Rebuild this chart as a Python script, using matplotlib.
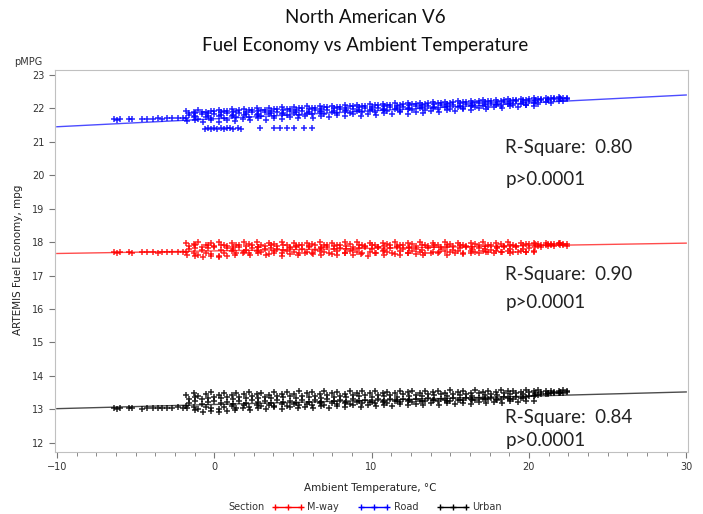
import matplotlib
matplotlib.use("Agg")
import matplotlib.pyplot as plt
from matplotlib.lines import Line2D
from matplotlib.ticker import MultipleLocator, AutoMinorLocator

# temperature positions of the dense bands
x_up = [-1.8, -1.3, -1.0, -0.5, -0.2, 0.3, 0.6, 1.1, 1.4, 1.9,
        2.2, 2.7, 3.0, 3.5, 3.8, 4.3, 4.6, 5.1, 5.4, 5.9,
        6.2, 6.7, 7.0, 7.5, 7.8, 8.3, 8.6, 9.1, 9.4, 9.9,
        10.2, 10.7, 11.0, 11.5, 11.8, 12.3, 12.6, 13.1, 13.4, 13.9,
        14.2, 14.7, 15.0, 15.5, 15.8, 16.3, 16.6, 17.1, 17.4, 17.9,
        18.2, 18.7, 19.0, 19.5, 19.8, 20.3, 20.6, 21.1, 21.4, 21.9, 22.2]
x_mid = [-1.6, -1.2, -0.8, -0.4, 0.0, 0.4, 0.8, 1.2, 1.6, 2.0,
         2.4, 2.8, 3.2, 3.6, 4.0, 4.4, 4.8, 5.2, 5.6, 6.0,
         6.4, 6.8, 7.2, 7.6, 8.0, 8.4, 8.8, 9.2, 9.6, 10.0,
         10.4, 10.8, 11.2, 11.6, 12.0, 12.4, 12.8, 13.2, 13.6, 14.0,
         14.4, 14.8, 15.2, 15.6, 16.0, 16.4, 16.8, 17.2, 17.6, 18.0,
         18.4, 18.8, 19.2, 19.6, 20.0, 20.4, 20.8, 21.2, 21.6, 22.0, 22.4]
x_low = [-1.7, -1.2, -0.7, -0.2, 0.3, 0.8, 1.3, 1.8, 2.3, 2.8,
         3.3, 3.8, 4.3, 4.8, 5.3, 5.8, 6.3, 6.8, 7.3, 7.8,
         8.3, 8.8, 9.3, 9.8, 10.3, 10.8, 11.3, 11.8, 12.3, 12.8,
         13.3, 13.8, 14.3, 14.8, 15.3, 15.8, 16.3, 16.8, 17.3, 17.8,
         18.3, 18.8, 19.3, 19.8, 20.3]
x_cold = [-6.4, -6.2, -6.0, -5.4, -5.2, -4.6, -4.3, -3.9, -3.6, -3.3,
          -3.0, -2.7, -2.3, -2.0]

# Road (blue)
road_up = [21.92, 21.88, 21.95, 21.90, 21.93, 21.96, 21.91, 21.97, 21.93, 21.99,
           21.95, 22.00, 21.96, 22.02, 21.98, 22.03, 21.99, 22.04, 22.01, 22.06,
           22.02, 22.07, 22.03, 22.08, 22.05, 22.10, 22.06, 22.11, 22.07, 22.12,
           22.09, 22.14, 22.10, 22.15, 22.11, 22.16, 22.13, 22.17, 22.14, 22.19,
           22.15, 22.20, 22.17, 22.21, 22.18, 22.23, 22.19, 22.24, 22.21, 22.26,
           22.22, 22.27, 22.24, 22.29, 22.26, 22.30, 22.28, 22.31, 22.30, 22.33, 22.32]
road_b = [21.87, 21.85, 21.90, 21.86, 21.91, 21.88, 21.93, 21.89, 21.94, 21.90,
          21.95, 21.92, 21.96, 21.93, 21.98, 21.94, 21.99, 21.96, 22.01, 21.97,
          22.02, 21.99, 22.04, 22.00, 22.05, 22.02, 22.07, 22.03, 22.08, 22.05,
          22.10, 22.06, 22.11, 22.08, 22.12, 22.09, 22.14, 22.10, 22.15, 22.12,
          22.17, 22.13, 22.18, 22.15, 22.20, 22.17, 22.21, 22.19, 22.23, 22.20,
          22.25, 22.22, 22.26, 22.24, 22.28, 22.26, 22.29, 22.28, 22.30, 22.31, 22.32]
road_mid = [21.80, 21.76, 21.82, 21.78, 21.84, 21.79, 21.85, 21.81, 21.86, 21.83,
            21.88, 21.84, 21.89, 21.86, 21.90, 21.87, 21.92, 21.88, 21.93, 21.90,
            21.95, 21.91, 21.96, 21.93, 21.98, 21.94, 21.99, 21.95, 22.00, 21.97,
            22.02, 21.98, 22.03, 22.00, 22.05, 22.01, 22.06, 22.03, 22.08, 22.04,
            22.09, 22.06, 22.11, 22.08, 22.13, 22.10, 22.15, 22.12, 22.17, 22.14,
            22.19, 22.16, 22.21, 22.18, 22.23, 22.21, 22.25, 22.24, 22.27, 22.28, 22.29]
road_c = [21.70, 21.73, 21.68, 21.74, 21.71, 21.76, 21.72, 21.77, 21.74, 21.79,
          21.75, 21.80, 21.77, 21.82, 21.78, 21.83, 21.80, 21.85, 21.81, 21.86,
          21.83, 21.88, 21.84, 21.89, 21.86, 21.91, 21.87, 21.92, 21.89, 21.94,
          21.90, 21.95, 21.92, 21.97, 21.93, 21.98, 21.95, 22.00, 21.96, 22.01,
          21.98, 22.03, 21.99, 22.04, 22.01, 22.06, 22.03, 22.08, 22.05, 22.10,
          22.07, 22.12, 22.09, 22.14, 22.11, 22.16, 22.14, 22.18, 22.17, 22.21, 22.22]
road_low = [21.62, 21.66, 21.60, 21.64, 21.58, 21.66, 21.62, 21.68, 21.64, 21.70,
            21.66, 21.72, 21.68, 21.74, 21.70, 21.76, 21.72, 21.78, 21.74, 21.80,
            21.76, 21.82, 21.78, 21.84, 21.80, 21.86, 21.82, 21.88, 21.84, 21.90,
            21.87, 21.92, 21.89, 21.94, 21.91, 21.97, 21.94, 22.00, 21.97, 22.03,
            22.00, 22.06, 22.03, 22.09, 22.08]
road_cold = [21.67, 21.66, 21.68, 21.67, 21.69, 21.68, 21.67, 21.69, 21.70, 21.68,
             21.70, 21.71, 21.70, 21.72]
road_dip_x = [-0.6, -0.4, -0.2, 0.0, 0.2, 0.4, 0.6, 0.8, 1.0, 1.2,
              1.5, 1.7, 2.9, 3.8, 4.2, 4.6, 5.1, 5.7, 6.2]
road_dip_y = [21.38, 21.40, 21.39, 21.41, 21.38, 21.40, 21.39, 21.41, 21.40, 21.38,
              21.40, 21.39, 21.42, 21.41, 21.42, 21.41, 21.42, 21.41, 21.42]

# M-way (red)
mway_up = [17.98, 17.93, 18.00, 17.91, 17.96, 18.01, 17.92, 17.97, 17.90, 17.99,
           17.94, 18.00, 17.91, 17.96, 17.93, 18.01, 17.92, 17.97, 17.90, 17.98,
           17.95, 18.00, 17.92, 17.96, 17.91, 17.99, 17.94, 18.00, 17.92, 17.97,
           17.90, 17.98, 17.93, 18.00, 17.91, 17.96, 17.94, 18.01, 17.92, 17.97,
           17.90, 17.99, 17.93, 17.98, 17.91, 17.96, 17.93, 18.00, 17.92, 17.97,
           17.94, 17.99, 17.91, 17.96, 17.93, 17.98, 17.95, 17.97, 17.94, 17.96, 17.95]
mway_b = [17.88, 17.91, 17.86, 17.90, 17.87, 17.92, 17.88, 17.85, 17.90, 17.87,
          17.91, 17.86, 17.89, 17.92, 17.87, 17.90, 17.86, 17.89, 17.92, 17.88,
          17.91, 17.86, 17.90, 17.87, 17.92, 17.88, 17.85, 17.90, 17.87, 17.91,
          17.86, 17.89, 17.92, 17.87, 17.90, 17.86, 17.89, 17.92, 17.88, 17.91,
          17.86, 17.90, 17.87, 17.92, 17.88, 17.85, 17.90, 17.87, 17.91, 17.86,
          17.89, 17.92, 17.87, 17.90, 17.93, 17.94, 17.92, 17.95, 17.93, 17.96, 17.94]
mway_mid = [17.78, 17.83, 17.76, 17.81, 17.85, 17.77, 17.82, 17.79, 17.84, 17.76,
            17.81, 17.86, 17.78, 17.83, 17.80, 17.75, 17.82, 17.85, 17.79, 17.84,
            17.77, 17.81, 17.86, 17.78, 17.83, 17.80, 17.76, 17.82, 17.85, 17.79,
            17.84, 17.77, 17.81, 17.86, 17.78, 17.83, 17.80, 17.76, 17.82, 17.85,
            17.79, 17.84, 17.77, 17.81, 17.86, 17.78, 17.83, 17.80, 17.76, 17.82,
            17.85, 17.79, 17.84, 17.80, 17.83, 17.86, 17.85, 17.88, 17.87, 17.90, 17.89]
mway_c = [17.70, 17.66, 17.62, 17.68, 17.64, 17.60, 17.67, 17.72, 17.66, 17.71,
          17.68, 17.73, 17.69, 17.65, 17.72, 17.68, 17.74, 17.70, 17.66, 17.71,
          17.67, 17.73, 17.69, 17.65, 17.72, 17.68, 17.74, 17.70, 17.66, 17.71,
          17.67, 17.73, 17.69, 17.65, 17.72, 17.68, 17.74, 17.70, 17.66, 17.71,
          17.67, 17.73, 17.69, 17.72, 17.68, 17.74, 17.70, 17.72, 17.69, 17.73,
          17.71, 17.74, 17.70, 17.73, 17.69, 17.72, 17.88, 17.90, 17.91, 17.93, 17.92]
mway_low = [17.63, 17.58, 17.55, 17.60, 17.56, 17.59, 17.62, 17.66, 17.61, 17.67,
            17.63, 17.68, 17.60, 17.65, 17.62, 17.67, 17.64, 17.61, 17.66, 17.63,
            17.68, 17.62, 17.65, 17.60, 17.67, 17.63, 17.66, 17.61, 17.68, 17.64,
            17.62, 17.66, 17.69, 17.63, 17.67, 17.65, 17.68, 17.66, 17.70, 17.67,
            17.69, 17.68, 17.70, 17.69, 17.70]
mway_cold = [17.69, 17.68, 17.69, 17.70, 17.68, 17.69, 17.70, 17.69, 17.68, 17.70,
             17.69, 17.70, 17.71, 17.70]

# Urban (black)
urban_up = [13.42, 13.48, 13.40, 13.46, 13.51, 13.44, 13.49, 13.43, 13.50, 13.45,
            13.52, 13.46, 13.50, 13.44, 13.53, 13.47, 13.51, 13.45, 13.54, 13.48,
            13.52, 13.46, 13.55, 13.49, 13.53, 13.47, 13.55, 13.50, 13.54, 13.48,
            13.56, 13.50, 13.53, 13.48, 13.55, 13.51, 13.54, 13.49, 13.56, 13.52,
            13.55, 13.50, 13.57, 13.52, 13.55, 13.50, 13.57, 13.53, 13.56, 13.51,
            13.57, 13.54, 13.56, 13.52, 13.58, 13.55, 13.57, 13.54, 13.56, 13.55, 13.57]
urban_b = [13.32, 13.36, 13.30, 13.35, 13.38, 13.33, 13.37, 13.31, 13.38, 13.34,
           13.39, 13.35, 13.38, 13.33, 13.40, 13.36, 13.39, 13.34, 13.41, 13.37,
           13.40, 13.35, 13.42, 13.38, 13.41, 13.36, 13.43, 13.39, 13.42, 13.37,
           13.44, 13.40, 13.43, 13.38, 13.45, 13.41, 13.44, 13.39, 13.46, 13.42,
           13.45, 13.40, 13.47, 13.43, 13.46, 13.41, 13.48, 13.44, 13.47, 13.43,
           13.49, 13.45, 13.50, 13.47, 13.51, 13.49, 13.52, 13.50, 13.53, 13.52, 13.54]
urban_mid = [13.18, 13.24, 13.15, 13.21, 13.26, 13.19, 13.23, 13.17, 13.25, 13.20,
             13.27, 13.21, 13.25, 13.19, 13.28, 13.22, 13.26, 13.20, 13.29, 13.23,
             13.27, 13.21, 13.30, 13.24, 13.28, 13.22, 13.30, 13.25, 13.29, 13.23,
             13.31, 13.26, 13.30, 13.24, 13.32, 13.27, 13.31, 13.25, 13.33, 13.28,
             13.32, 13.26, 13.34, 13.29, 13.33, 13.27, 13.35, 13.30, 13.34, 13.29,
             13.36, 13.32, 13.38, 13.35, 13.40, 13.42, 13.45, 13.47, 13.49, 13.50, 13.52]
urban_c = [13.10, 13.06, 13.02, 13.08, 13.04, 13.00, 13.07, 13.11, 13.05, 13.12,
           13.08, 13.13, 13.09, 13.14, 13.10, 13.15, 13.11, 13.16, 13.12, 13.17,
           13.13, 13.18, 13.14, 13.19, 13.15, 13.20, 13.16, 13.21, 13.18, 13.22,
           13.19, 13.23, 13.20, 13.24, 13.21, 13.25, 13.23, 13.26, 13.24, 13.27,
           13.25, 13.28, 13.26, 13.29, 13.27, 13.30, 13.29, 13.31, 13.30, 13.32,
           13.31, 13.33, 13.32, 13.34, 13.36, 13.40, 13.44, 13.46, 13.48, 13.49, 13.50]
urban_low = [13.05, 12.98, 12.93, 12.96, 12.92, 12.95, 12.99, 13.03, 12.98, 13.04,
             13.00, 13.06, 13.01, 13.07, 13.03, 13.08, 13.04, 13.10, 13.05, 13.11,
             13.07, 13.12, 13.08, 13.13, 13.09, 13.14, 13.10, 13.15, 13.12, 13.16,
             13.13, 13.18, 13.14, 13.19, 13.16, 13.20, 13.17, 13.21, 13.19, 13.23,
             13.20, 13.24, 13.22, 13.25, 13.24]
urban_cold = [13.03, 13.02, 13.03, 13.04, 13.03, 13.02, 13.04, 13.03, 13.05, 13.04,
              13.03, 13.05, 13.06, 13.05]

# regression lines
fit_x = [-10, 30]
road_fit = [21.45, 22.40]
mway_fit = [17.66, 17.97]
urban_fit = [13.02, 13.52]

stats = [("0.80", 20.82, 19.86), ("0.90", 17.02, 16.18), ("0.84", 12.75, 12.06)]

fig = plt.figure(figsize=(7.03, 5.14), dpi=100)
ax = fig.add_axes([0.078, 0.121, 0.901, 0.743])

series = [
    ("#ff0000", mway_up, mway_b, mway_mid, mway_c, mway_low, mway_cold, mway_fit),
    ("#0000ff", road_up, road_b, road_mid, road_c, road_low, road_cold, road_fit),
    ("#000000", urban_up, urban_b, urban_mid, urban_c, urban_low, urban_cold, urban_fit),
]
mk = dict(marker="+", ls="none", ms=5, mew=1.1, alpha=0.85)
for col, yu, yb, ym, yc, yl, ycold, yf in series:
    ax.plot(x_up, yu, color=col, **mk)
    ax.plot(x_mid, yb, color=col, **mk)
    ax.plot(x_mid, ym, color=col, **mk)
    ax.plot(x_up, yc, color=col, **mk)
    ax.plot(x_low, yl, color=col, **mk)
    ax.plot(x_cold, ycold, color=col, **mk)
    ax.plot(fit_x, yf, color=col, lw=1.0, alpha=0.7)
ax.plot(road_dip_x, road_dip_y, color="#0000ff", **mk)

for r2, y1, y2 in stats:
    ax.text(18.5, y1, "R-Square:  " + r2, fontsize=13.5, family="Lato",
            va="center", color="#222222")
    ax.text(18.5, y2, "p>0.0001", fontsize=13.5, family="Lato",
            va="center", color="#222222")

ax.set_xlim(-10.13, 30.13)
ax.set_ylim(11.73, 23.15)
ax.xaxis.set_major_locator(MultipleLocator(10))
ax.xaxis.set_minor_locator(AutoMinorLocator(8))
ax.yaxis.set_major_locator(MultipleLocator(1))
for s in ax.spines.values():
    s.set_color("#c0c0c0")
ax.tick_params(which="both", colors="#777777", labelcolor="#333333", labelsize=7)
ax.tick_params(which="major", length=4)
ax.tick_params(which="minor", length=3)

fig.text(0.519, 0.965, "North American V6", ha="center", va="center",
         fontsize=13.5, family="Lato", color="#111111")
fig.text(0.519, 0.912, "Fuel Economy vs Ambient Temperature", ha="center",
         va="center", fontsize=13.5, family="Lato", color="#111111")
fig.text(0.040, 0.879, "pMPG", ha="center", va="center", fontsize=7, color="#333333")
fig.text(0.026, 0.494, "ARTEMIS Fuel Economy, mpg", rotation=90, ha="center",
         va="center", fontsize=7.5, color="#222222")
fig.text(0.527, 0.051, "Ambient Temperature, \u00b0C", ha="center", va="center",
         fontsize=7.5, color="#222222")

fig.text(0.35, 0.013, "Section", ha="center", va="center", fontsize=7, color="#333333")
handles = [Line2D([], [], color=c, marker="+", ms=5, lw=1) for c in ("#ff0000", "#0000ff", "#000000")]
fig.legend(handles, ["M-way", "Road", "Urban"], loc="center left",
           bbox_to_anchor=(0.375, 0.013), ncol=3, frameon=False, fontsize=7,
           numpoints=3, handlelength=3.2, columnspacing=2.0, handletextpad=0.4,
           labelcolor="#333333")

fig.savefig("out.png", dpi=100)
